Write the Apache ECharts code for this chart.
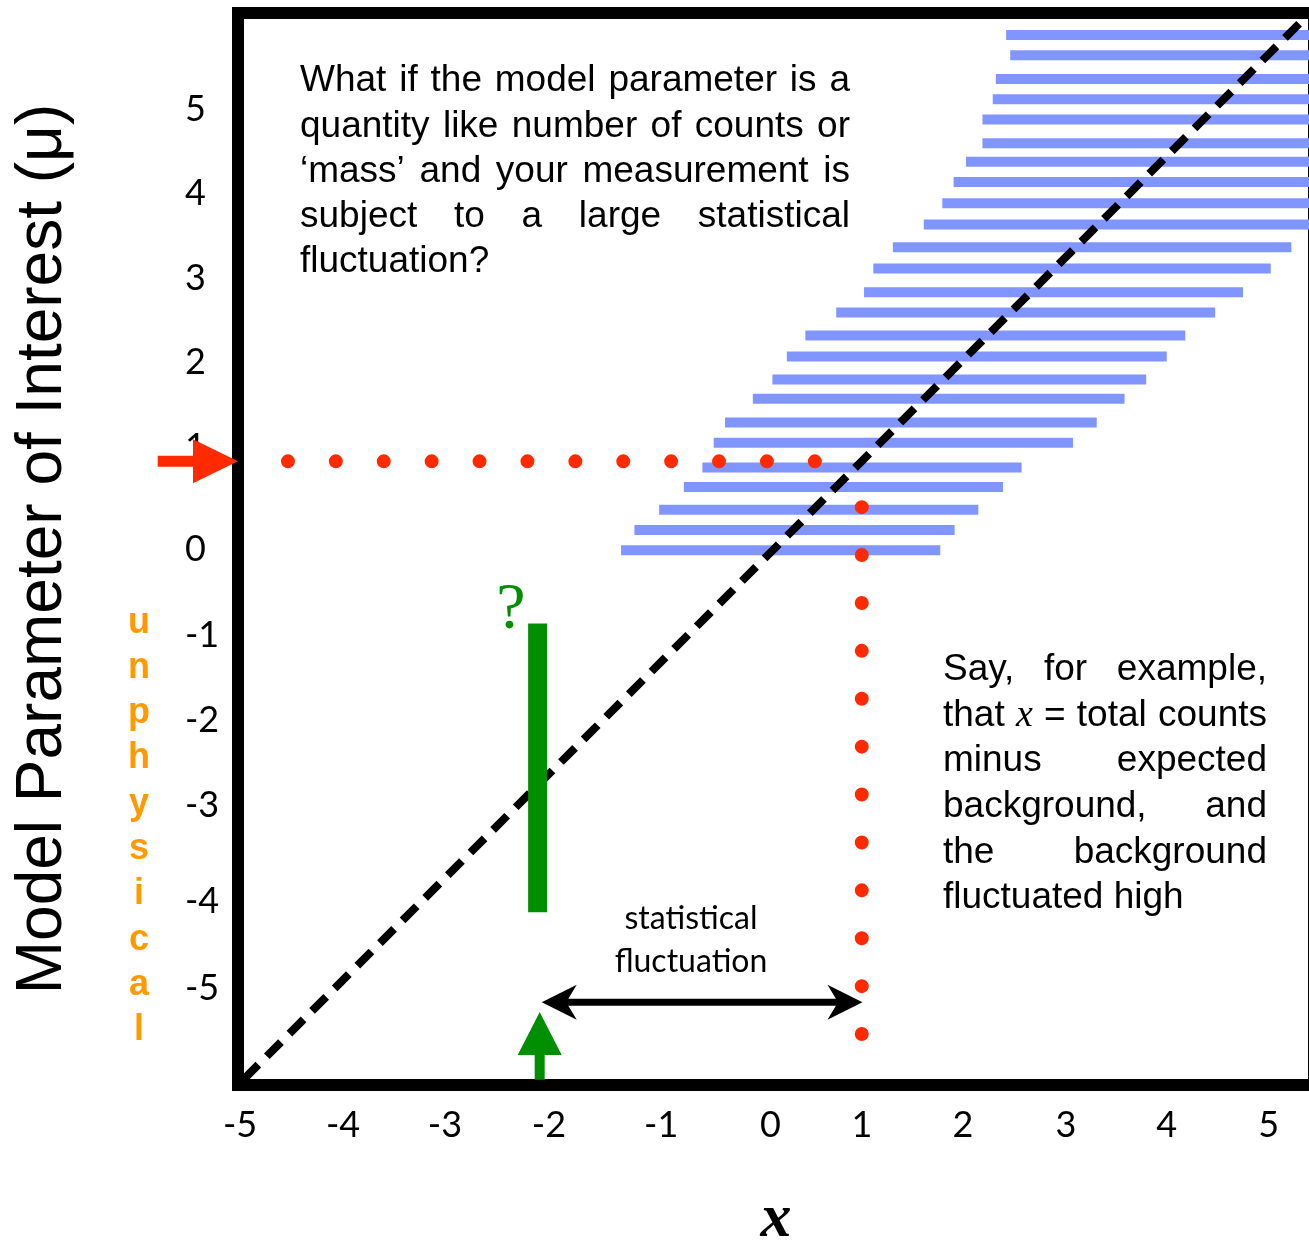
<!DOCTYPE html>
<html>
<head>
<meta charset="utf-8">
<script src="https://cdn.jsdelivr.net/npm/echarts@6/dist/echarts.min.js"></script>
<style>
html,body{margin:0;padding:0;background:#ffffff;}
#chart{width:1309px;height:1241px;}
</style>
</head>
<body>
<div id="chart"></div>
<script>
// ---------------- data ----------------
const xTickPos    = [-4.98, -3.98, -2.99, -1.98, -0.89, 0.17, 1.06, 2.04, 3.04, 4.02, 5.01];
const xTickLabels = ['-5', '-4', '-3', '-2', '-1', '0', '1', '2', '3', '4', '5'];
const yTickPos    = [4.98, 4.02, 3.06, 2.10, 1.14, -0.02, -1.00, -1.96, -2.93, -4.01, -5.00];
const yTickLabels = ['5', '4', '3', '2', '1', '0', '-1', '-2', '-3', '-4', '-5'];

// confidence belt: one horizontal band per mu value
const bandMu   = [5.82, 5.59, 5.32, 5.09, 4.86, 4.59, 4.38, 4.15, 3.91, 3.67, 3.41, 3.17, 2.90,
                  2.67, 2.41, 2.17, 1.91, 1.69, 1.42, 1.19, 0.91, 0.69, 0.43, 0.20, -0.03];
const bandLow  = [2.46, 2.50, 2.36, 2.33, 2.23, 2.23, 2.07, 1.95, 1.84, 1.66, 1.36, 1.17, 1.08,
                  0.81, 0.51, 0.33, 0.19, 0.00, -0.27, -0.38, -0.49, -0.67, -0.91, -1.15, -1.28];
const bandHigh = [5.45, 5.45, 5.45, 5.45, 5.45, 5.45, 5.45, 5.45, 5.45, 5.45, 5.23, 5.03, 4.76,
                  4.49, 4.20, 4.02, 3.82, 3.61, 3.34, 3.11, 2.61, 2.43, 2.19, 1.96, 1.82];

// dashed diagonal (mu = x)
const diagonalX  = [-4.94, 5.35];
const diagonalMu = [-6.03, 6.00];

// red dotted construction lines
const measuredMu   = 0.98;
const hDotsX       = [-4.515, 0.621];
const observedX    = 1.058;
const vDotsMu      = [0.46, -5.53];

// green "?" interval and arrow
const intervalX    = -2.09;
const intervalMu   = [-0.86, -4.14];
const greenArrowX  = -2.07;
const greenArrowMu = [-6.04, -5.27];

// red arrow pointing at mu on the axis
const redArrowMu   = 0.98;
const redArrowX    = [-5.78, -5.00];

// statistical fluctuation double arrow
const flucMu       = -5.16;
const flucX        = [-2.05, 1.065];

// texts
const topNote = ['What if the model parameter is a', 'quantity like number of counts or',
                 '\u2018mass\u2019 and your measurement is', 'subject to a large statistical', 'fluctuation?'];
const sideNote = ['Say, for example,', 'that x = total counts', 'minus expected',
                  'background, and', 'the background', 'fluctuated high'];
const flucLabel = ['statistical', 'fluctuation'];
const unphysical = 'unphysical';
const yTitle = 'Model Parameter of Interest (\u03bc)';
const xTitle = 'x';

// ---------------- styles ----------------
const SANS = '"Liberation Sans", Arial, Helvetica, sans-serif';
const SERIF = '"Liberation Serif", "Times New Roman", serif';
const HUMAN = 'Lato, "Open Sans", sans-serif';
const BLUE = '#8095ff';
const RED = '#ff2a00';
const GREEN = '#008f00';
const ORANGE = '#ff9900';

// ---------------- helpers ----------------
const mctx = document.createElement('canvas').getContext('2d');
function tw(s, font) { mctx.font = font; return mctx.measureText(s).width; }

function paragraph(lines, left, right, y0, gap, size, justifyLast) {
  const els = [];
  const base = size + 'px ' + SANS;
  const ital = 'italic ' + (size + 1) + 'px ' + SERIF;
  lines.forEach((line, li) => {
    const y = y0 + li * gap;
    const words = line.split(' ');
    const fonts = words.map(w => (w === 'x' ? ital : base));
    const widths = words.map((w, i) => tw(w, fonts[i]));
    const total = widths.reduce((a, b) => a + b, 0);
    const isLast = li === lines.length - 1;
    const g = (!isLast || justifyLast) && words.length > 1
      ? (right - left - total) / (words.length - 1)
      : tw(' ', base);
    let x = left;
    words.forEach((w, i) => {
      els.push({
        type: 'text', x: x, y: y, silent: true,
        style: { text: w, font: fonts[i], fill: '#000', align: 'left', verticalAlign: 'middle' }
      });
      x += widths[i] + g;
    });
  });
  return els;
}

function arrowGroup(p1, p2, o) {
  const dx = p2[0] - p1[0], dy = p2[1] - p1[1];
  const len = Math.hypot(dx, dy);
  const ux = dx / len, uy = dy / len;
  const nx = -uy, ny = ux;
  const back = o.notch ? o.headLen * o.notch : o.headLen;
  function head(tip, sx, sy) {
    const bx = tip[0] - sx * o.headLen, by = tip[1] - sy * o.headLen;
    const pts = [tip, [bx + nx * o.headW / 2, by + ny * o.headW / 2]];
    if (o.notch) pts.push([tip[0] - sx * back, tip[1] - sy * back]);
    pts.push([bx - nx * o.headW / 2, by - ny * o.headW / 2]);
    return { type: 'polygon', shape: { points: pts }, style: { fill: o.color } };
  }
  let s1 = p1.slice(), s2 = [p2[0] - ux * (back - 1), p2[1] - uy * (back - 1)];
  const children = [];
  if (o.both) s1 = [p1[0] + ux * (back - 1), p1[1] + uy * (back - 1)];
  children.push({
    type: 'line', shape: { x1: s1[0], y1: s1[1], x2: s2[0], y2: s2[1] },
    style: { stroke: o.color, lineWidth: o.shaft, lineCap: 'butt' }
  });
  children.push(head(p2, ux, uy));
  if (o.both) children.push(head(p1, -ux, -uy));
  return { type: 'group', children: children };
}

function arrowSeries(name, rows, o) {
  return {
    type: 'custom', name: name, coordinateSystem: 'cartesian2d', clip: false, silent: true, z: 6,
    data: rows,
    renderItem: (params, api) => {
      const p1 = api.coord([api.value(0), api.value(1)]);
      const p2 = api.coord([api.value(2), api.value(3)]);
      return arrowGroup(p1, p2, o);
    }
  };
}

function nearestLabel(v, pos, labels) {
  let best = 0;
  pos.forEach((p, i) => { if (Math.abs(p - v) < Math.abs(pos[best] - v)) best = i; });
  return labels[best];
}

// ---------------- chart ----------------
const chart = echarts.init(document.getElementById('chart'), null, { renderer: 'canvas' });

const graphics = []
  .concat(paragraph(topNote, 300, 850, 81, 45.3, 37, false))
  .concat(paragraph(sideNote, 943, 1267, 670, 45.6, 37, false))
  .concat([
    { type: 'text', x: 691, y: 940, silent: true,
      style: { text: flucLabel.join('\n'), font: '32px ' + HUMAN, lineHeight: 43, fill: '#000',
               align: 'center', verticalAlign: 'middle' } },
    { type: 'text', x: 139, y: 600, silent: true,
      style: { text: unphysical.split('').join('\n'), font: 'bold 36px ' + SANS, lineHeight: 45.3,
               fill: ORANGE, align: 'center', verticalAlign: 'top' } },
    { type: 'text', x: 511, y: 611, silent: true,
      style: { text: '?', font: '66px ' + SERIF, fill: GREEN, align: 'center', verticalAlign: 'middle' } }
  ]);

const option = {
  animation: false,
  backgroundColor: '#ffffff',
  grid: { left: 238, top: 13, right: -5, bottom: 156, show: true, borderWidth: 12, borderColor: '#000',
          backgroundColor: 'transparent', containLabel: false, outerBoundsMode: 'none' },
  xAxis: {
    type: 'value', min: -5, max: 5.45,
    name: xTitle, nameLocation: 'middle', nameGap: 104,
    nameTextStyle: { fontFamily: SERIF, fontStyle: 'italic', fontWeight: 'bold', fontSize: 62, color: '#000' },
    axisLine: { show: false }, axisTick: { show: false }, splitLine: { show: false },
    axisLabel: { customValues: xTickPos, formatter: v => nearestLabel(v, xTickPos, xTickLabels),
                 fontFamily: HUMAN, fontSize: 36, color: '#000', margin: 22 }
  },
  yAxis: {
    type: 'value', min: -6.1, max: 6.07,
    name: yTitle, nameLocation: 'middle', nameGap: 163, nameRotate: 90,
    nameTextStyle: { fontFamily: SANS, fontSize: 64, color: '#000' },
    axisLine: { show: false }, axisTick: { show: false }, splitLine: { show: false },
    axisLabel: { customValues: yTickPos, formatter: v => nearestLabel(v, yTickPos, yTickLabels),
                 fontFamily: HUMAN, fontSize: 36, color: '#000', margin: 53, align: 'left' }
  },
  graphic: { elements: graphics },
  series: [
    {
      type: 'custom', name: 'belt', coordinateSystem: 'cartesian2d', clip: true, silent: true, z: 2,
      encode: { x: [0, 1], y: 2 },
      data: bandMu.map((m, i) => [bandLow[i], bandHigh[i], m]),
      renderItem: (params, api) => {
        const a = api.coord([api.value(0), api.value(2)]);
        const b = api.coord([api.value(1), api.value(2)]);
        return { type: 'rect', shape: { x: a[0], y: a[1] - 5, width: b[0] - a[0], height: 10 },
                 style: { fill: BLUE } };
      }
    },
    {
      type: 'line', name: 'diagonal', silent: true, z: 3, showSymbol: false, symbol: 'none',
      data: diagonalX.map((x, i) => [x, diagonalMu[i]]),
      lineStyle: { color: '#000', width: 8, type: [20, 12], cap: 'butt' }
    },
    {
      type: 'line', name: 'measured', silent: true, z: 4, showSymbol: false, symbol: 'none',
      data: hDotsX.map(x => [x, measuredMu]),
      lineStyle: { color: RED, width: 14, type: [0, 47.9], cap: 'round' }
    },
    {
      type: 'line', name: 'observed', silent: true, z: 4, showSymbol: false, symbol: 'none',
      data: vDotsMu.map(m => [observedX, m]),
      lineStyle: { color: RED, width: 14, type: [0, 47.9], cap: 'round' }
    },
    {
      type: 'line', name: 'interval', silent: true, z: 5, showSymbol: false, symbol: 'none',
      data: intervalMu.map(m => [intervalX, m]),
      lineStyle: { color: GREEN, width: 19, cap: 'butt' }
    },
    arrowSeries('greenArrow', [[greenArrowX, greenArrowMu[0], greenArrowX, greenArrowMu[1]]],
                { color: GREEN, shaft: 10, headLen: 43, headW: 44 }),
    arrowSeries('redArrow', [[redArrowX[0], redArrowMu, redArrowX[1], redArrowMu]],
                { color: RED, shaft: 11, headLen: 45, headW: 44 }),
    arrowSeries('fluctuation', [[flucX[0], flucMu, flucX[1], flucMu]],
                { color: '#000', shaft: 7, headLen: 35, headW: 35, notch: 0.7, both: true })
  ]
};
chart.setOption(option);
</script>
</body>
</html>
